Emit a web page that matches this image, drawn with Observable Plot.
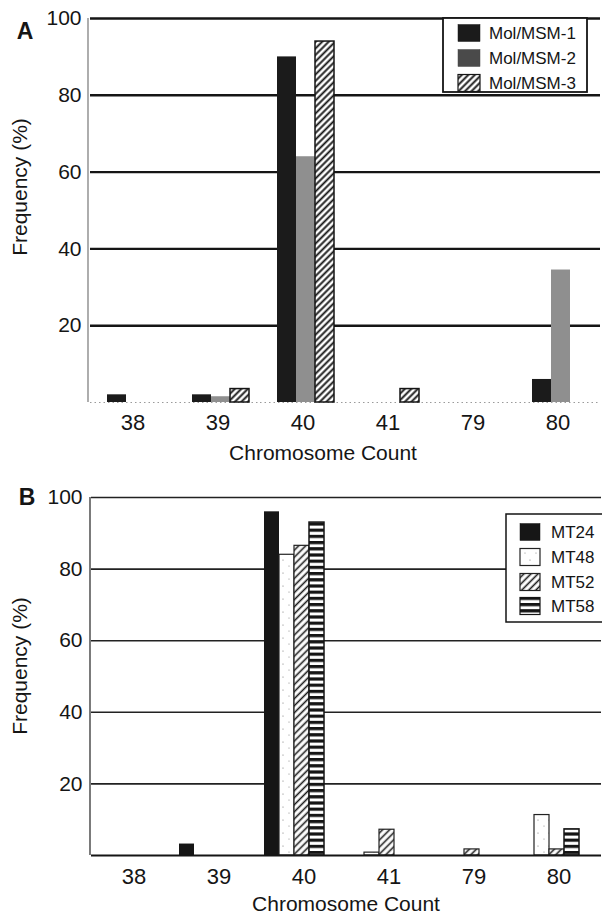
<!DOCTYPE html>
<html><head><meta charset="utf-8">
<script src="https://cdn.jsdelivr.net/npm/d3@7"></script>
<script src="https://cdn.jsdelivr.net/npm/@observablehq/plot@0.6"></script>
<style>
body{margin:0;background:#fff;font-family:"Liberation Sans",Arial,Helvetica,sans-serif;color:#151515}
#wrap{position:relative;width:602px;height:915px;overflow:hidden;background:#fff}
.panel{position:absolute;left:0}
.lbl{position:absolute;white-space:nowrap;line-height:1;transform:translate(-50%,-50%)}
</style></head><body>
<svg width="0" height="0" style="position:absolute">
<defs>
  <pattern id="hatchA" patternUnits="userSpaceOnUse" width="4.6" height="4.6" patternTransform="rotate(45)">
    <rect width="4.6" height="4.6" fill="#fff"/>
    <line x1="2.3" y1="0" x2="2.3" y2="4.6" stroke="#151515" stroke-width="1.9"/>
  </pattern>
  <pattern id="hatchB" patternUnits="userSpaceOnUse" width="5" height="5" patternTransform="rotate(45)">
    <rect width="5" height="5" fill="#fff"/>
    <line x1="2.5" y1="0" x2="2.5" y2="5" stroke="#1a1a1a" stroke-width="1.6"/>
  </pattern>
  <pattern id="stripes" patternUnits="userSpaceOnUse" width="8" height="6.2">
    <rect width="8" height="6.2" fill="#fff"/>
    <rect y="0" width="8" height="3.2" fill="#151515"/>
  </pattern>
  <pattern id="dots" patternUnits="userSpaceOnUse" width="11" height="13">
    <rect width="11" height="13" fill="#fff"/>
    <circle cx="2" cy="3" r="0.6" fill="#777"/>
    <circle cx="8" cy="9" r="0.6" fill="#888"/>
  </pattern>
</defs>
</svg>
<div id="wrap">
  <div id="pa" class="panel" style="top:0px"></div>
  <div id="pb" class="panel" style="top:479px"></div>
  <div class="lbl" style="left:25px;top:31px;font-size:23px;font-weight:bold">A</div>
  <div class="lbl" style="left:27px;top:497px;font-size:23px;font-weight:bold">B</div>
  <div class="lbl" style="left:323px;top:452px;font-size:21px">Chromosome Count</div>
  <div class="lbl" style="left:346px;top:903px;font-size:21px">Chromosome Count</div>
  <div class="lbl" style="left:19px;top:187px;font-size:21px;transform:translate(-50%,-50%) rotate(-90deg)">Frequency (%)</div>
  <div class="lbl" style="left:19px;top:666px;font-size:21px;transform:translate(-50%,-50%) rotate(-90deg)">Frequency (%)</div>
</div>
<script>
// ---- data ----
const counts = ["38", "39", "40", "41", "79", "80"];
const yTicks = [20, 40, 60, 80, 100];

const seriesA = ["Mol/MSM-1", "Mol/MSM-2", "Mol/MSM-3"];
const msm1 = [2, 2, 90, 0, 0, 6];
const msm2 = [0, 1.5, 64, 0, 0, 34.5];
const msm3 = [0, 3.5, 94, 3.5, 0, 0];

const seriesB = ["MT24", "MT48", "MT52", "MT58"];
const mt24 = [0, 3.2, 96, 0, 0, 0];
const mt48 = [0, 0, 84, 0.8, 0, 11.3];
const mt52 = [0, 0, 86.5, 7.2, 1.7, 1.7];
const mt58 = [0, 0, 93, 0, 0, 7.3];

// ---- tables ----
const table = (series, arrays) =>
  counts.flatMap((c, i) => series.map((s, j) => ({count: c, series: s, value: arrays[j][i]})));
const tableA = table(seriesA, [msm1, msm2, msm3]);
const tableB = table(seriesB, [mt24, mt48, mt52, mt58]);
const gridData = counts.flatMap(c => yTicks.map(t => ({count: c, t})));
const baseData = counts.map(c => ({count: c, t: 0}));

const styleA = [
  {fill: "#1b1b1b", stroke: "none", strokeWidth: 0},
  {fill: "#8f8f8f", stroke: "none", strokeWidth: 0},
  {fill: "url(#hatchA)", stroke: "#151515", strokeWidth: 1.5}
];
const styleB = [
  {fill: "#161616", stroke: "none", strokeWidth: 0},
  {fill: "url(#dots)", stroke: "#222", strokeWidth: 1.2},
  {fill: "url(#hatchB)", stroke: "#222", strokeWidth: 1.2},
  {fill: "url(#stripes)", stroke: "#151515", strokeWidth: 1.5}
];

function barMarks(tbl, series, styles) {
  return series.map((s, j) => Plot.barY(tbl.filter(d => d.series === s && d.value > 0), {
    fx: "count", x: "series", y: "value", ...styles[j]
  }));
}

function addLegend(svg, box, series, styles, rowY, sw, textX, fontSize, swatchFills) {
  const g = d3.select(svg).append("g").attr("text-anchor", "start");
  g.append("rect").attr("x", box.x).attr("y", box.y).attr("width", box.w).attr("height", box.h)
    .attr("fill", "#fff").attr("stroke", "#151515").attr("stroke-width", box.sw);
  series.forEach((s, j) => {
    g.append("rect").attr("x", sw.x).attr("y", rowY[j] - sw.h / 2).attr("width", sw.w).attr("height", sw.h)
      .attr("fill", swatchFills[j]).attr("stroke", styles[j].stroke === "none" ? swatchFills[j] : styles[j].stroke)
      .attr("stroke-width", styles[j].stroke === "none" ? 0.5 : 1.2);
    g.append("text").attr("x", textX).attr("y", rowY[j]).attr("dy", "0.36em")
      .attr("text-anchor", "start")
      .attr("font-size", fontSize).attr("fill", "#151515")
      .attr("font-family", "Liberation Sans, Arial, sans-serif").text(s);
  });
}

// ---- Panel A ----
const plotA = Plot.plot({
  width: 602, height: 462,
  marginLeft: 88, marginRight: 0, marginTop: 18, marginBottom: 60,
  style: {fontFamily: "Liberation Sans, Arial, sans-serif", color: "#151515", background: "transparent", overflow: "visible"},
  fx: {domain: counts, padding: 0, label: null, axis: null},
  x: {domain: seriesA, paddingInner: 0, paddingOuter: 0.7, align: 0.6, axis: null},
  y: {domain: [0, 100], axis: null},
  marks: [
    Plot.ruleY(gridData, {fx: "count", y: "t", stroke: "#151515", strokeWidth: 2.4}),
    Plot.ruleY(baseData, {fx: "count", y: "t", stroke: "#9a9a9a", strokeWidth: 1, strokeDasharray: "1.5,3"}),
    ...barMarks(tableA, seriesA, styleA),
    Plot.axisY(yTicks, {tickSize: 0, tickPadding: 9, fontSize: 21}),
    Plot.axisFx({anchor: "bottom", tickSize: 0, tickPadding: 12, fontSize: 22, label: null})
  ]
});
document.getElementById("pa").appendChild(plotA);
{
  const y = plotA.scale("y");
  d3.select(plotA).append("line").attr("x1", 88).attr("x2", 88)
    .attr("y1", y.apply(100)).attr("y2", y.apply(0)).attr("stroke", "#777").attr("stroke-width", 1.2);
  addLegend(plotA, {x: 443, y: y.apply(100), w: 144, h: 74, sw: 1.8}, seriesA, styleA,
    [33, 58, 83], {x: 458, w: 22, h: 17}, 489, 17, ["#1b1b1b", "#4a4a4a", "url(#hatchA)"]);
}

// ---- Panel B ----
const plotB = Plot.plot({
  width: 602, height: 426,
  marginLeft: 90, marginRight: 0, marginTop: 18, marginBottom: 50,
  style: {fontFamily: "Liberation Sans, Arial, sans-serif", color: "#151515", background: "transparent", overflow: "visible"},
  fx: {domain: counts, padding: 0, label: null, axis: null},
  x: {domain: seriesB, paddingInner: 0, paddingOuter: 0.75, align: 0.1, axis: null},
  y: {domain: [0, 100], axis: null},
  marks: [
    Plot.ruleY(gridData, {fx: "count", y: "t", stroke: "#222", strokeWidth: 1.6}),
    ...barMarks(tableB, seriesB, styleB),
    Plot.ruleY(baseData, {fx: "count", y: "t", stroke: "#151515", strokeWidth: 2.2}),
    Plot.axisY(yTicks, {tickSize: 0, tickPadding: 9, fontSize: 21}),
    Plot.axisFx({anchor: "bottom", tickSize: 0, tickPadding: 13, fontSize: 22, label: null})
  ]
});
document.getElementById("pb").appendChild(plotB);
{
  const y = plotB.scale("y");
  d3.select(plotB).append("line").attr("x1", 90).attr("x2", 90)
    .attr("y1", y.apply(100)).attr("y2", y.apply(0)).attr("stroke", "#222").attr("stroke-width", 1.2);
  addLegend(plotB, {x: 506, y: 35, w: 130, h: 108, sw: 1.5}, seriesB, styleB,
    [53, 78, 103, 127], {x: 520, w: 20, h: 17}, 551, 17, ["#161616", "url(#dots)", "url(#hatchB)", "url(#stripes)"]);
}
</script>
</body></html>
